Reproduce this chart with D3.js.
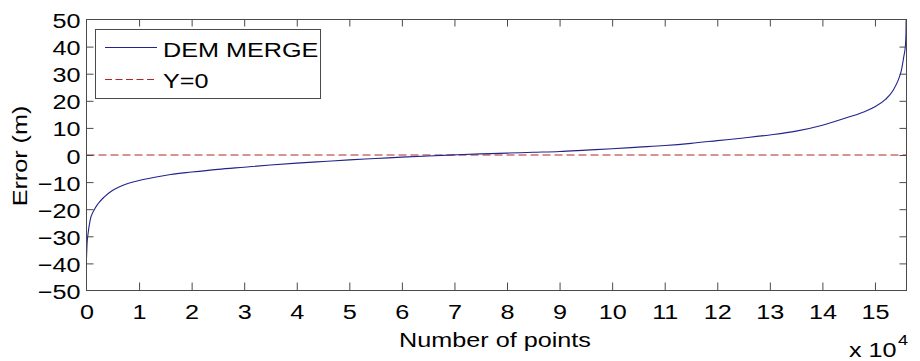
<!DOCTYPE html>
<html>
<head>
<meta charset="utf-8">
<script src="https://cdn.jsdelivr.net/npm/d3@7"></script>
<style>
  html, body { margin: 0; padding: 0; background: #fff; }
  svg { display: block; }
  text { font-family: "Liberation Sans", Arial, sans-serif; fill: #000; }
</style>
</head>
<body>
<svg id="chart" width="920" height="361"></svg>
<script>
// ---- data ----
const points = [0, 100, 300, 700, 1400, 2200, 3300, 5000, 6500, 8000, 10000,
  13000, 16000, 20000, 25000, 30000, 35000, 40000, 45000, 50000, 55000, 60000,
  65000, 70000, 75000, 80000, 85000, 90000, 95000, 100000, 105000, 110000,
  115000, 120000, 125000, 130000, 135000, 140000, 145000, 148000, 150000,
  152000, 153500, 154500, 155000, 155500, 155800, 155900, 156000];
const errors = [-38, -33, -29, -24, -20.5, -18, -15.6, -13, -11.5, -10.4, -9.4,
  -8.2, -7.2, -6.3, -5.3, -4.5, -3.7, -3.0, -2.4, -1.8, -1.3, -0.8,
  -0.35, 0.05, 0.4, 0.7, 1.0, 1.3, 1.8, 2.3, 2.9, 3.5,
  4.3, 5.3, 6.3, 7.4, 8.8, 11.0, 14.0, 16.0, 17.8,
  20.5, 24, 28, 31, 36.5, 40.5, 45, 60];
const refLineValue = 0;
const xTickValues = [0, 10000, 20000, 30000, 40000, 50000, 60000, 70000, 80000,
  90000, 100000, 110000, 120000, 130000, 140000, 150000];
const xTickLabels = ["0", "1", "2", "3", "4", "5", "6", "7", "8", "9", "10",
  "11", "12", "13", "14", "15"];
const yTickValues = [-50, -40, -30, -20, -10, 0, 10, 20, 30, 40, 50];
const seriesNames = ["DEM MERGE", "Y=0"];
const xLabel = "Number of points";
const yLabel = "Error (m)";

// ---- layout ----
const L = 86.5, R = 906.5, T = 19.5, B = 290.5;
const FS = 21, SX = 1.2;          // font size and horizontal stretch of glyphs
const axisColor = "#4a4a4a";
const lineColor = "#23238c";
const refColor = "#b32626";

const svg = d3.select("#chart");
const x = d3.scaleLinear().domain([0, 156000]).range([L, R]);
const y = d3.scaleLinear().domain([-50, 50]).range([B, T]);

function stretch(sel, ax) {
  sel.attr("transform", `translate(${ax},0) scale(${SX},1) translate(${-ax},0)`);
}

svg.append("rect").attr("x", 0).attr("y", 0).attr("width", 920).attr("height", 361).attr("fill", "#fff");

// clip
svg.append("clipPath").attr("id", "clip").append("rect")
  .attr("x", L).attr("y", T).attr("width", R - L).attr("height", B - T);

// reference line y=0
svg.append("line")
  .attr("x1", x(0)).attr("x2", x(156000))
  .attr("y1", y(refLineValue)).attr("y2", y(refLineValue))
  .attr("stroke", refColor).attr("stroke-width", 1)
  .attr("stroke-dasharray", "8,4");

// curve
const lineGen = d3.line().curve(d3.curveMonotoneX)
  .x((d, i) => x(points[i])).y(d => y(d));
svg.append("path")
  .datum(errors)
  .attr("clip-path", "url(#clip)")
  .attr("d", lineGen)
  .attr("fill", "none")
  .attr("stroke", lineColor)
  .attr("stroke-width", 1.1);

// axes
const gB = svg.append("g").attr("transform", `translate(0,${B})`)
  .call(d3.axisBottom(x).tickValues(xTickValues)
    .tickFormat((d, i) => xTickLabels[i]).tickSizeInner(-8).tickSizeOuter(0));
const gT = svg.append("g").attr("transform", `translate(0,${T})`)
  .call(d3.axisTop(x).tickValues(xTickValues).tickFormat("").tickSizeInner(-7).tickSizeOuter(0));
const gL = svg.append("g").attr("transform", `translate(${L},0)`)
  .call(d3.axisLeft(y).tickValues(yTickValues).tickSizeInner(-7).tickSizeOuter(0));
const gR = svg.append("g").attr("transform", `translate(${R},0)`)
  .call(d3.axisRight(y).tickValues(yTickValues).tickFormat("").tickSizeInner(-7).tickSizeOuter(0));

[gB, gT, gL, gR].forEach(g => {
  g.select(".domain").remove();
  g.selectAll(".tick line").attr("stroke", axisColor);
});
gB.selectAll(".tick line").filter(d => d === 0).remove();
gT.selectAll(".tick line").filter(d => d === 0).remove();
gL.selectAll(".tick line").filter(d => d === -50 || d === 50).remove();
gR.selectAll(".tick line").filter(d => d === -50 || d === 50).remove();

gB.selectAll(".tick text")
  .attr("y", 29).attr("dy", null).attr("x", 0)
  .style("font-size", FS + "px").attr("fill", "#000")
  .call(stretch, 0);
gL.selectAll(".tick text")
  .attr("x", -6).attr("dy", null).attr("y", 8)
  .style("font-size", FS + "px").attr("fill", "#000")
  .call(stretch, -6);
gT.selectAll("text").remove();
gR.selectAll("text").remove();

// box
svg.append("rect")
  .attr("x", L).attr("y", T).attr("width", R - L).attr("height", B - T)
  .attr("fill", "none").attr("stroke", axisColor).attr("stroke-width", 1);

// axis labels
svg.append("text")
  .attr("text-anchor", "middle")
  .style("font-size", FS + "px")
  .attr("transform", `translate(495,346.5) scale(${SX},1)`)
  .text(xLabel);
svg.append("text")
  .attr("text-anchor", "middle")
  .style("font-size", FS + "px")
  .attr("transform", `translate(26.5,156) rotate(-90) scale(${SX},1)`)
  .text(yLabel);

// x 10^4 multiplier
const mult = svg.append("g");
mult.append("text").attr("text-anchor", "start")
  .style("font-size", FS + "px")
  .attr("transform", `translate(849,357) scale(${SX},1)`)
  .text("x 10");
mult.append("text").attr("text-anchor", "start")
  .style("font-size", "15px")
  .attr("transform", `translate(898,345) scale(${SX},1)`)
  .text("4");

// legend
const lg = svg.append("g");
lg.append("rect").attr("x", 95.5).attr("y", 29.5).attr("width", 225).attr("height", 69)
  .attr("fill", "#fff").attr("stroke", axisColor).attr("stroke-width", 1);
lg.append("line").attr("x1", 105).attr("x2", 157).attr("y1", 47.5).attr("y2", 47.5)
  .attr("stroke", lineColor).attr("stroke-width", 1.1);
lg.append("line").attr("x1", 105).attr("x2", 157).attr("y1", 79.5).attr("y2", 79.5)
  .attr("stroke", refColor).attr("stroke-width", 1).attr("stroke-dasharray", "7,3.5");
lg.append("text").style("font-size", FS + "px")
  .attr("transform", `translate(163,57) scale(${SX},1)`).text(seriesNames[0]);
lg.append("text").style("font-size", FS + "px")
  .attr("transform", `translate(163,87.5) scale(${SX},1)`).text(seriesNames[1]);
</script>
</body>
</html>
